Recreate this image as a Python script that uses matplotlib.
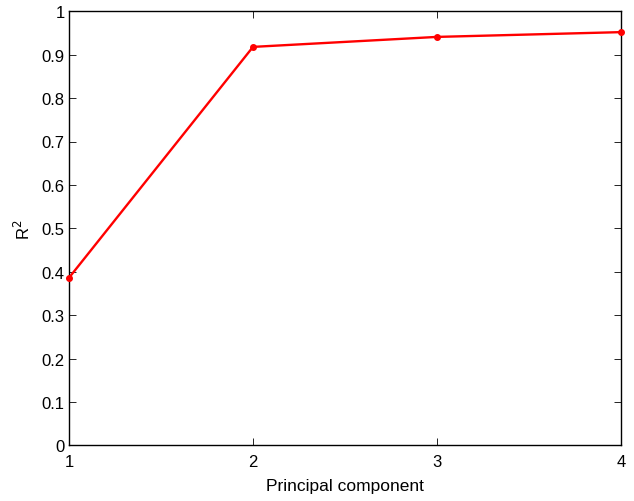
import matplotlib
matplotlib.use("Agg")
import matplotlib.pyplot as plt

components = [1, 2, 3, 4]
r2 = [0.386, 0.918, 0.941, 0.952]
yticks = [0, 0.1, 0.2, 0.3, 0.4, 0.5, 0.6, 0.7, 0.8, 0.9, 1]
ytick_labels = ["0", "0.1", "0.2", "0.3", "0.4", "0.5", "0.6", "0.7", "0.8", "0.9", "1"]

plt.rcParams['font.family'] = ['Liberation Sans', 'DejaVu Sans']
fig = plt.figure(figsize=(6.34, 5.02), dpi=100)
ax = fig.add_axes([69/634, (502-446.3)/502, (621-69)/634, (446.3-12.3)/502])
ax.plot(components, r2, color='red', linewidth=1.7, marker='o', markersize=4, clip_on=False, zorder=5)
ax.set_xlim(1, 4)
ax.set_ylim(0, 1)
ax.set_xticks(components)
ax.set_xticklabels([str(c) for c in components])
ax.set_yticks(yticks)
ax.set_yticklabels(ytick_labels)
ax.tick_params(direction='in', top=True, right=True, length=5, width=0.6, labelsize=12, pad=3)
ax.tick_params(axis='x', pad=6)
for s in ax.spines.values():
    s.set_linewidth(1.0)
ax.set_xlabel("Principal component", fontsize=12.5, labelpad=7)
ax.set_ylabel("R$^2$", fontsize=12, labelpad=6)
fig.savefig("out.png", dpi=100)
